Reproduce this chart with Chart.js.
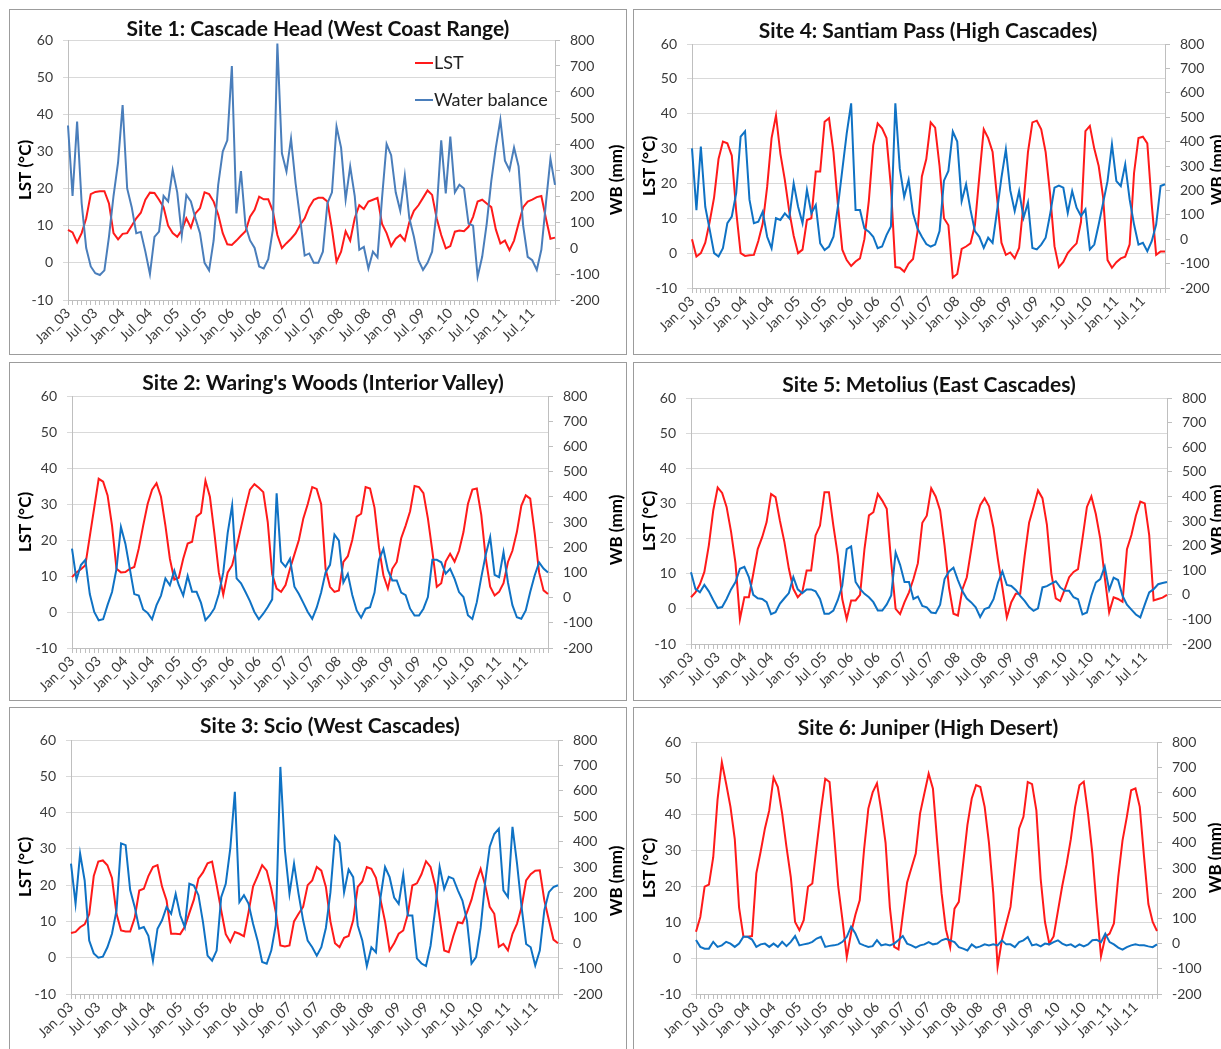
<!DOCTYPE html>
<html>
<head>
<meta charset="utf-8">
<title>LST and water balance, six Oregon sites</title>
<script src="https://cdn.jsdelivr.net/npm/chart.js@4.4.1/dist/chart.umd.min.js"></script>
<style>
  html, body { margin: 0; padding: 0; background: #fff; }
  body { width: 1221px; height: 1049px; overflow: hidden; position: relative; font-family: Lato, 'Open Sans', sans-serif; }
  .frame { position: absolute; border: 1px solid #9c9c9c; box-sizing: border-box; }
  .panel-title { position: absolute; width: 600px; text-align: center; font-weight: bold; font-size: 21px; line-height: 26px; color: #111; white-space: nowrap; }
  canvas { position: absolute; }
</style>
</head>
<body>
<script>
// monthly categories Jan_03 .. Dec_11
const years = ['03', '04', '05', '06', '07', '08', '09', '10', '11'];
const monthNames = ['Jan', 'Feb', 'Mar', 'Apr', 'May', 'Jun', 'Jul', 'Aug', 'Sep', 'Oct', 'Nov', 'Dec'];
const months = years.flatMap(y => monthNames.map(m => m + '_' + y));
const shownMonths = ['Jan', 'Jul'];

// land surface temperature (°C), one row per year
const lstCascadeHead = [
  8.9, 8.2, 5.5, 8, 12, 18.5, 19.1, 19.3, 19.3, 16, 8, 6.3,
  7.8, 8, 10, 12, 13.5, 17, 18.9, 18.8, 17, 15, 10, 8,
  7, 8.8, 12, 9.5, 13.3, 14.7, 19, 18.5, 16.5, 13, 8, 5,
  4.8, 6, 7.3, 8.5, 12.4, 14.3, 17.8, 17.1, 17.1, 14, 7.5, 4,
  5.3, 6.5, 7.9, 10.2, 12, 15, 17, 17.5, 17.5, 16.5, 9, 0.3,
  3, 8.5, 6, 12, 15.5, 14.5, 16.5, 17, 17.5, 10.5, 8, 4.5,
  6.5, 7.5, 6, 11, 14, 15.5, 17.5, 19.5, 18.3, 12, 7.5, 3.9,
  4.5, 8.4, 8.7, 8.5, 9.7, 12.4, 16.5, 17, 16, 15, 9, 5.2,
  6, 3.4, 6, 10.6, 15, 16.5, 17, 17.7, 18, 12, 6.5, 6.8
];
const lstWaringsWoods = [
  9.7, 11, 11.9, 13, 21, 29, 37, 36.2, 32.4, 24, 12, 11,
  11.1, 12, 12.5, 17.6, 24, 30, 34, 35.8, 32, 24, 14.8, 9,
  9.5, 14.8, 19, 19.5, 26.5, 27.5, 36.5, 32, 22, 11, 4.8, 11,
  13, 18, 23.5, 29, 34, 35.5, 34.5, 33.3, 25, 10.5, 6.5, 5.6,
  7.5, 12, 16, 20, 26, 30, 34.7, 34.2, 30, 12, 7, 5.6,
  6, 13.9, 15.5, 20, 26.5, 27.3, 34.7, 34.3, 29, 18, 10.2, 6.5,
  12, 13.9, 20.5, 24, 28, 35, 34.7, 33, 26, 17, 7, 8,
  14, 16.2, 14, 17, 22.2, 30, 34, 34.3, 27, 15, 7, 4.6,
  5.6, 8, 13.9, 17, 22.2, 29.5, 32.4, 31.5, 22, 11, 6, 5
];
const lstScio = [
  6.8, 7.1, 8.4, 9.2, 12, 22.5, 26.5, 26.8, 25.5, 22, 12.1, 7.5,
  7.2, 7.2, 11, 18.5, 19, 22.5, 25, 25.5, 19.6, 15.8, 6.6, 6.6,
  6.5, 8.5, 12.3, 16, 21.8, 23.5, 26, 26.5, 20, 13, 6.5, 4.3,
  7.1, 6.6, 5.9, 12.5, 19.6, 22.5, 25.5, 24, 19, 12.5, 3.4, 3.1,
  3.4, 10, 12.1, 14, 20, 21.3, 25, 24, 19.5, 10, 4, 2.9,
  5.5, 6, 10.3, 19.5, 21, 25, 24.5, 22, 16, 10, 2, 4,
  6.6, 7.5, 12, 19.9, 20.5, 23, 26.6, 25, 20, 11, 2, 1.5,
  6, 9.8, 9.5, 12.5, 16, 21, 24.5, 20, 14, 12.1, 3, 3.8,
  2, 6.6, 9.4, 14, 21.3, 23, 24, 24.1, 15.8, 10.3, 5, 4
];
const lstSantiamPass = [
  4, -1, 0, 3, 9, 16, 27, 32, 31.5, 28, 12, 0,
  -0.8, -0.6, -0.5, 3.5, 8.5, 19, 33, 39.5, 28.5, 21, 12, 5,
  0, 1, 9.5, 10, 23.4, 23.4, 37.7, 38.7, 29, 14, 1, -2,
  -3.7, -2.4, -1.5, 4, 15, 31, 37.2, 35.8, 33, 19, -4, -4.2,
  -5.3, -3, -1.7, 6, 22, 27, 37.5, 36, 25, 10, 8, -7,
  -6, 1.2, 1.9, 2.8, 8, 22, 35.5, 33, 29, 16, 3, -0.5,
  0.2, -1.5, 1.5, 14.3, 29, 37.5, 38, 35.5, 29, 17, 2, -4,
  -2.5, 0, 1.5, 2.8, 9, 35, 36.5, 30, 25, 16, -2, -4.2,
  -2.6, -1.5, -1, 2.5, 23, 33, 33.4, 31.5, 14, -0.5, 0.5, 0.5
];
const lstMetolius = [
  3.3, 4.7, 7, 10.5, 18, 28, 34.5, 33, 29, 22, 13, -2.9,
  3.3, 3.3, 10, 17, 20.4, 24.7, 32.7, 31.8, 25, 19, 11.4, 5.7,
  3.3, 4.7, 10.9, 10.9, 20.9, 23.7, 33.2, 33.2, 23.7, 15.2, 2.8, -2.9,
  2.4, 2.4, 4, 17.1, 26.6, 27.5, 32.7, 30.8, 28.5, 13.3, 0, -1.5,
  1.9, 4.7, 8.5, 13, 24.5, 26.5, 34.3, 32, 28, 18, 6, -1.4,
  -1.9, 5.5, 9, 17, 25, 29.5, 31.5, 29.2, 23, 14, 6, -2.4,
  1.9, 4.3, 4.3, 15, 24.5, 29, 33.7, 31.5, 24, 10, 3, 2.2,
  5.5, 9, 10.5, 11.3, 20, 29, 32, 27, 20, 9, -1, 3.3,
  2.8, 2, 17, 21, 26.5, 30.5, 30, 21, 2.4, 2.8, 3.2, 4
];
const lstJuniper = [
  7.3, 11.4, 19.8, 20.4, 28, 44, 54.4, 48.4, 42, 33, 14, 6,
  5.9, 6.1, 23.5, 29.5, 36, 41, 50.1, 47.5, 40.1, 30.9, 22.5, 10,
  7.7, 10.5, 19.8, 20.7, 31, 41, 49.8, 48.9, 35, 20, 10.5, 0.3,
  7, 12, 16, 30, 41.5, 46, 48.5, 41, 32, 14, 3.1, 2.4,
  12, 21, 25, 29, 40.1, 45.7, 51.2, 47, 32, 18, 8, 3,
  13.7, 15.6, 26.2, 37, 44.3, 48, 47.5, 42, 32, 18, -2.4, 5,
  9.6, 14.2, 25.3, 36, 39.2, 48.9, 48.3, 41, 22, 10, 4, 6,
  13, 20, 26, 33, 42, 48, 49, 40, 29, 14, 0.5, 5.9,
  6.8, 9.6, 22.5, 32.7, 39.2, 46.6, 47.1, 42, 28, 15, 10, 7.5
];

// water balance (mm), one row per year
const wbCascadeHead = [
  471, 200, 486, 172, 0, -71, -97, -104, -86, 43, 200, 329,
  550, 229, 157, 57, 62, -14, -100, 43, 63, 200, 179, 300,
  214, 50, 204, 179, 114, 57, -57, -86, 29, 243, 371, 414,
  700, 133, 296, 86, 29, 0, -71, -79, -43, 70, 786, 364,
  294, 421, 249, 114, -29, -21, -57, -57, -14, 172, 214, 467,
  386, 186, 314, 200, -7, 4, -79, -14, -36, 193, 400, 357,
  214, 143, 279, 114, 43, -47, -84, -57, -14, 143, 414, 210,
  429, 214, 243, 229, 94, 86, -110, -34, 94, 257, 386, 493,
  336, 300, 386, 314, 86, -34, -47, -84, -7, 172, 343, 243
];
const wbWaringsWoods = [
  194, 72, 129, 150, 14, -57, -90, -86, -29, 22, 114, 280,
  214, 114, 14, 8, -47, -61, -86, -30, 8, 76, 49, 107,
  50, 8, 86, 23, 23, -21, -90, -70, -43, 14, 100, 257,
  366, 76, 57, 22, -14, -57, -86, -64, -37, -7, 414, 143,
  122, 154, 43, 14, -21, -57, -84, -40, 20, 100, 130, 250,
  226, 60, 94, 10, -51, -80, -44, -38, 20, 150, 193, 110,
  68, 68, 20, 10, -44, -71, -71, -44, 2, 150, 150, 140,
  95, 114, 74, 22, 2, -70, -85, -18, 80, 170, 240, 90,
  81, 180, 60, -30, -78, -84, -51, 22, 88, 140, 115, 100
];
const wbScio = [
  313, 156, 353, 247, 10, -40, -57, -53, -16, 37, 129, 393,
  386, 209, 143, 57, 64, 29, -69, 57, 90, 143, 116, 194,
  110, 63, 234, 227, 189, 83, -49, -69, -29, 181, 234, 373,
  596, 162, 189, 156, 77, 10, -74, -81, -29, 72, 694, 366,
  194, 313, 194, 90, 10, -16, -49, -16, 60, 200, 420, 395,
  200, 290, 260, 70, 11, -90, -16, -36, 180, 300, 260, 180,
  155, 270, 109, 109, -60, -80, -90, -10, 130, 300, 214, 261,
  254, 208, 168, 89, -80, -55, 60, 240, 380, 430, 451, 208,
  182, 458, 313, 142, -3, -16, -88, -29, 130, 201, 221, 228
];
const wbSantiamPass = [
  372, 119, 380, 133, 39, -57, -71, -37, 66, 93, 189, 420,
  442, 162, 66, 72, 113, 10, -37, 86, 79, 106, 86, 229,
  133, 66, 202, 106, 140, -17, -44, -30, 10, 133, 284, 434,
  557, 120, 120, 44, 31, 10, -37, -30, 17, 52, 557, 290,
  174, 243, 106, 44, 10, -20, -30, -22, 33, 240, 280, 441,
  400, 156, 225, 120, 33, 10, -36, 6, -15, 115, 252, 368,
  200, 115, 197, 88, 150, -36, -42, -22, 6, 101, 211, 220,
  211, 108, 197, 129, 95, 122, -42, -22, 60, 149, 238, 389,
  238, 218, 307, 163, 60, -22, -15, -49, -8, 60, 218, 225
];
const wbMetolius = [
  92, 24, 10, 40, 14, -21, -54, -50, -17, 22, 52, 106,
  114, 72, 0, -14, -17, -30, -79, -71, -36, -14, 7, 72,
  22, 7, 22, 22, 14, -17, -77, -77, -64, -21, 37, 186,
  197, 52, 24, 4, -10, -30, -64, -64, -39, -3, 172, 122,
  52, 52, -17, -7, -45, -51, -72, -75, -40, 64, 95, 110,
  60, 15, -15, -31, -51, -90, -58, -51, -18, 50, 95, 40,
  36, 20, -4, -25, -50, -65, -55, 30, 35, 45, 55, 30,
  16, 16, -10, -18, -80, -72, -4, 50, 64, 115, 20, 70,
  60, -4, -40, -60, -80, -92, -40, 10, 23, 43, 48, 52
];
const wbJuniper = [
  14, -13, -20, -20, 7, -13, -7, 7, 0, -13, 0, 27,
  27, 16, -13, -3, 0, -13, 0, -13, 7, -10, 7, 30,
  -7, -3, 0, 7, 20, 27, -13, -9, -7, -3, 7, 27,
  67, 40, 0, -7, -13, -10, 14, -7, -3, -7, 0, 14,
  30, 0, -7, -16, -7, -3, 6, -3, 0, 13, 19, 13,
  6, -14, -20, -27, -3, -16, -11, -3, -7, -3, -7, 13,
  -3, -3, -14, 6, 13, 26, -7, -3, -11, 0, -3, 6,
  13, 0, -7, -3, -14, -3, -11, -3, 13, 15, 6, 39,
  6, -3, -16, -24, -14, -7, -3, -7, -7, -11, -14, -3
];

const RED = '#ff1a1a';
const GRID = '#d9d9d9';
const AXIS = '#bfbfbf';
const TICK_TEXT = '#3a3a3a';
const FONT = "Lato, 'Open Sans', sans-serif";
Chart.defaults.font.family = FONT;

// frame: [left, top, width, height]; plot: [left, top, right, bottom]
const panels = [
  { title: 'Site 1: Cascade Head (West Coast Range)', lst: lstCascadeHead, wb: wbCascadeHead, blue: '#4a7ebb',
    frame: [9, 9, 618, 346], plot: [68, 40, 555, 300], titleAt: [318, 28], wbAt: [617, 180], key: true },
  { title: "Site 2: Waring's Woods (Interior Valley)", lst: lstWaringsWoods, wb: wbWaringsWoods, blue: '#0f72c4',
    frame: [9, 362, 618, 339], plot: [72, 396, 548, 648], titleAt: [323, 382], wbAt: [617, 530] },
  { title: 'Site 3: Scio (West Cascades)', lst: lstScio, wb: wbScio, blue: '#0f72c4',
    frame: [9, 707, 618, 346], plot: [71, 740, 558, 994], titleAt: [330, 725], wbAt: [617, 881] },
  { title: 'Site 4: Santiam Pass (High Cascades)', lst: lstSantiamPass, wb: wbSantiamPass, blue: '#0f72c4',
    frame: [633, 9, 596, 346], plot: [692, 44, 1165, 288], titleAt: [928, 30], wbAt: [1218, 170] },
  { title: 'Site 5: Metolius (East Cascades)', lst: lstMetolius, wb: wbMetolius, blue: '#0f72c4',
    frame: [633, 362, 596, 339], plot: [691, 398, 1167, 644], titleAt: [929, 384], wbAt: [1218, 520] },
  { title: 'Site 6: Juniper (High Desert)', lst: lstJuniper, wb: wbJuniper, blue: '#0f72c4',
    frame: [633, 707, 596, 346], plot: [696, 742, 1157, 994], titleAt: [928, 727], wbAt: [1216, 858] }
];

// right-hand axis title, read bottom to top like the left one
const wbTitle = {
  id: 'wbTitle',
  afterDraw(chart, args, opts) {
    const { ctx } = chart;
    ctx.save();
    ctx.translate(opts.x, opts.y);
    ctx.rotate(-Math.PI / 2);
    ctx.font = 'bold 17px ' + FONT;
    ctx.fillStyle = '#000';
    ctx.textAlign = 'center';
    ctx.textBaseline = 'middle';
    ctx.fillText('WB (mm)', 0, 0);
    ctx.restore();
  }
};

// small in-plot key, one row per dataset
const seriesKey = {
  id: 'seriesKey',
  afterDraw(chart, args, opts) {
    if (!opts.show) return;
    const { ctx, chartArea } = chart;
    chart.data.datasets.forEach((ds, i) => {
      const y = chartArea.top + opts.rows[i];
      const x = chartArea.right + opts.dx;
      ctx.save();
      ctx.strokeStyle = ds.borderColor;
      ctx.lineWidth = 2;
      ctx.beginPath();
      ctx.moveTo(x, y);
      ctx.lineTo(x + 18, y);
      ctx.stroke();
      ctx.font = '18px ' + FONT;
      ctx.fillStyle = '#222';
      ctx.textBaseline = 'middle';
      ctx.fillText(ds.label, x + 19, y);
      ctx.restore();
    });
  }
};

function makePanel(p) {
  const [fx, fy, fw, fh] = p.frame;
  const [pl, pt, pr, pb] = p.plot;

  const frame = document.createElement('div');
  frame.className = 'frame';
  Object.assign(frame.style, { left: fx + 'px', top: fy + 'px', width: fw + 'px', height: fh + 'px' });
  document.body.appendChild(frame);

  const canvas = document.createElement('canvas');
  canvas.width = fw;
  canvas.height = fh;
  Object.assign(canvas.style, { left: fx + 'px', top: fy + 'px', width: fw + 'px', height: fh + 'px' });
  document.body.appendChild(canvas);

  const title = document.createElement('div');
  title.className = 'panel-title';
  title.textContent = p.title;
  Object.assign(title.style, { left: (p.titleAt[0] - 300) + 'px', top: (p.titleAt[1] - 13) + 'px' });
  document.body.appendChild(title);

  new Chart(canvas.getContext('2d'), {
    type: 'line',
    data: {
      labels: months,
      datasets: [
        { label: 'LST', data: p.lst, yAxisID: 'y', borderColor: RED, borderWidth: 2,
          pointRadius: 0, tension: 0, order: 1 },
        { label: 'Water balance', data: p.wb, yAxisID: 'y1', borderColor: p.blue, borderWidth: 2,
          pointRadius: 0, tension: 0, order: 0 }
      ]
    },
    options: {
      responsive: false,
      animation: false,
      devicePixelRatio: 1,
      layout: { padding: { top: pt - fy, left: 0, right: 0, bottom: 0 } },
      plugins: {
        legend: { display: false },
        tooltip: { enabled: false },
        wbTitle: { x: p.wbAt[0] - fx, y: p.wbAt[1] - fy },
        seriesKey: { show: !!p.key, dx: -140, rows: [23, 60] }
      },
      scales: {
        x: {
          offset: false,
          grid: { drawOnChartArea: false, color: AXIS, tickLength: 5 },
          border: { color: AXIS },
          ticks: {
            autoSkip: false, maxRotation: 45, minRotation: 45, padding: 0,
            color: TICK_TEXT, font: { size: 14 },
            callback(value) {
              const label = this.getLabelForValue(value);
              return shownMonths.includes(label.slice(0, 3)) ? label : '';
            }
          },
          afterFit(s) { s.height = fy + fh - pb; }
        },
        y: {
          position: 'left',
          min: -10, max: 60,
          ticks: { stepSize: 10, color: TICK_TEXT, font: { size: 14 }, padding: 10 },
          grid: { color: GRID, tickLength: 5 },
          border: { color: AXIS },
          title: { display: true, text: 'LST (°C)', color: '#000', font: { size: 17, weight: 'bold' }, padding: { top: 6 } },
          afterFit(s) { s.width = pl - fx; }
        },
        y1: {
          position: 'right',
          min: -200, max: 800,
          ticks: { stepSize: 100, color: TICK_TEXT, font: { size: 14 }, padding: 10 },
          grid: { drawOnChartArea: false, color: AXIS, tickLength: 5 },
          border: { color: AXIS },
          afterFit(s) { s.width = fx + fw - pr; }
        }
      }
    },
    plugins: [wbTitle, seriesKey]
  });
}

panels.forEach(makePanel);
</script>
</body>
</html>
